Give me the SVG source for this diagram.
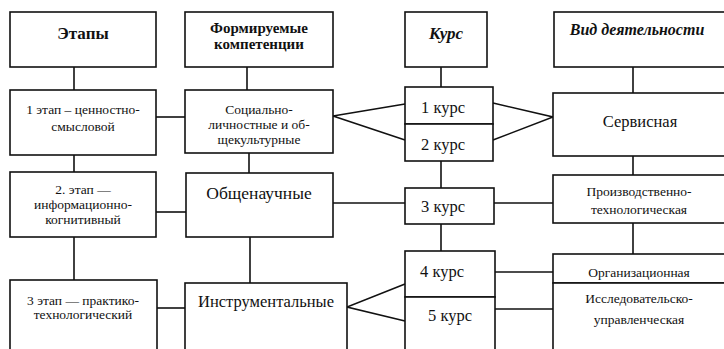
<svg xmlns="http://www.w3.org/2000/svg" width="724" height="349" viewBox="0 0 724 349">
<style>
rect{fill:#fff;stroke:#111;stroke-width:1.6}
.c line,.c polyline{stroke:#111;stroke-width:1.6;fill:none}
text{font-family:'Liberation Serif','DejaVu Serif',serif;fill:#111;text-anchor:middle}
.h{font-weight:bold;font-size:15px}
.hi{font-weight:bold;font-style:italic;font-size:16px}
.s{font-size:13.5px}
.m{font-size:16.5px}
</style>
<g class="c" id="connectors">
<line x1="74" y1="67" x2="74" y2="90"/>
<line x1="74" y1="155" x2="74" y2="172"/>
<line x1="74" y1="237" x2="74" y2="280"/>
<line x1="247" y1="67" x2="247" y2="90"/>
<line x1="249" y1="153" x2="249" y2="173"/>
<line x1="250" y1="237" x2="250" y2="283"/>
<line x1="441" y1="67" x2="441" y2="87"/>
<line x1="441" y1="161" x2="441" y2="188"/>
<line x1="441" y1="224" x2="441" y2="251"/>
<line x1="633" y1="67" x2="633" y2="93"/>
<line x1="633" y1="156" x2="633" y2="175"/>
<line x1="633" y1="223" x2="633" y2="254"/>
<line x1="156" y1="117" x2="185" y2="117"/>
<line x1="156" y1="212" x2="186" y2="212"/>
<line x1="157" y1="308" x2="185" y2="308"/>
<polyline points="405,104 333,116 405,140"/>
<polyline points="493,103 553,117 493,140"/>
<line x1="333" y1="203" x2="405" y2="203"/>
<line x1="494" y1="203" x2="553" y2="203"/>
<polyline points="405,284 347,307 405,321"/>
<line x1="495" y1="272" x2="553" y2="272"/>
<line x1="495" y1="309" x2="553" y2="309"/>
</g>
<g id="n-etapy"><rect x="10" y="12" width="146" height="55"/><text class="h" x="83" y="39" style="font-size:17px">Этапы</text></g>
<g id="n-komp"><rect x="185" y="12" width="148" height="55"/><text class="h" x="259" y="33">Формируемые</text><text class="h" x="259" y="49">компетенции</text></g>
<g id="n-kurs"><rect x="405" y="12" width="82" height="55"/><text class="hi" x="446" y="39" style="font-size:17px">Курс</text></g>
<g id="n-vid"><rect x="554" y="12" width="190" height="55"/><text class="hi" x="637" y="35">Вид деятельности</text></g>
<g id="n-et1"><rect x="10" y="90" width="146" height="65"/><text class="s" x="83" y="114">1 этап – ценностно-</text><text class="s" x="83" y="131">смысловой</text></g>
<g id="n-soc"><rect x="185" y="90" width="148" height="63"/><text class="s" x="259" y="114">Социально-</text><text class="s" x="259" y="129">личностные и об-</text><text class="s" x="259" y="144">щекультурные</text></g>
<g id="n-k1"><rect x="405" y="87" width="88" height="37"/><text class="m" x="443" y="113">1 курс</text></g>
<g id="n-k2"><rect x="405" y="124" width="88" height="37"/><text class="m" x="443" y="150">2 курс</text></g>
<g id="n-serv"><rect x="553" y="93" width="190" height="63"/><text class="m" x="640" y="127">Сервисная</text></g>
<g id="n-et2"><rect x="10" y="172" width="146" height="65"/><text class="s" x="83" y="194">2. этап —</text><text class="s" x="83" y="209">информационно-</text><text class="s" x="83" y="224">когнитивный</text></g>
<g id="n-obsch"><rect x="186" y="173" width="147" height="64"/><text class="m" x="259" y="199" style="font-size:17.5px">Общенаучные</text></g>
<g id="n-k3"><rect x="405" y="188" width="89" height="36"/><text class="m" x="443" y="212">3 курс</text></g>
<g id="n-proizv"><rect x="553" y="175" width="190" height="48"/><text class="s" x="639" y="196">Производственно-</text><text class="s" x="639" y="214">технологическая</text></g>
<g id="n-et3"><rect x="10" y="280" width="147" height="90"/><text class="s" x="83" y="305">3 этап — практико-</text><text class="s" x="83" y="319">технологический</text></g>
<g id="n-instr"><rect x="185" y="283" width="162" height="90"/><text class="m" x="266" y="307">Инструментальные</text></g>
<g id="n-k4"><rect x="405" y="251" width="90" height="46"/><text class="m" x="442" y="277">4 курс</text></g>
<g id="n-k5"><rect x="405" y="297" width="90" height="70"/><text class="m" x="450" y="321">5 курс</text></g>
<g id="n-org"><rect x="553" y="254" width="190" height="29"/><text class="s" x="639" y="277">Организационная</text></g>
<g id="n-issl"><rect x="553" y="283" width="190" height="90"/><text class="s" x="639" y="303">Исследовательско-</text><text class="s" x="639" y="324">управленческая</text></g>
</svg>
